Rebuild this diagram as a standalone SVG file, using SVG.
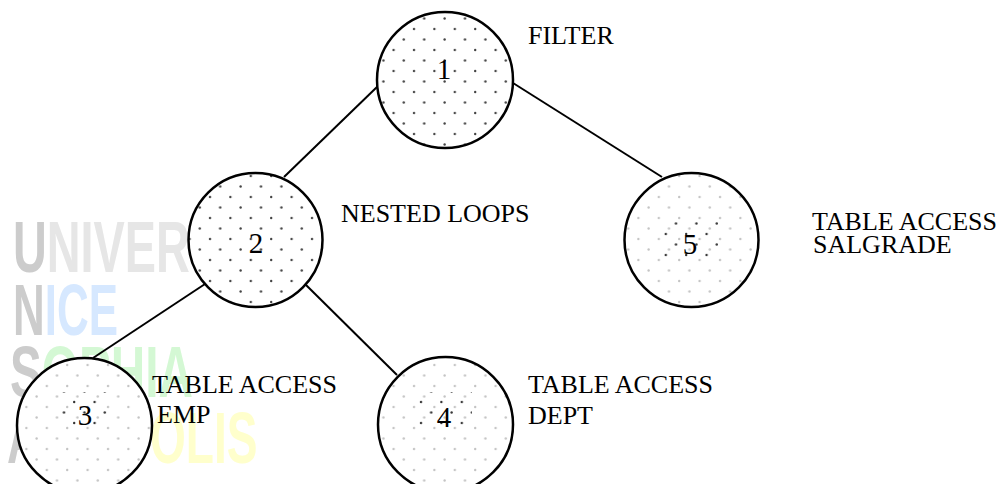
<svg xmlns="http://www.w3.org/2000/svg" width="1007" height="484" viewBox="0 0 1007 484">
<defs>
<pattern id="dk" patternUnits="userSpaceOnUse" width="20.4" height="21" x="1" y="3">
<circle cx="5" cy="5" r="1.2" fill="#444"/>
<circle cx="15.2" cy="15.5" r="1.2" fill="#444"/>
</pattern>
<pattern id="lt" patternUnits="userSpaceOnUse" width="20.4" height="21" x="1" y="3">
<circle cx="5" cy="5" r="1.2" fill="#c4c4c4"/>
<circle cx="15.2" cy="15.5" r="1.2" fill="#c4c4c4"/>
</pattern>
<pattern id="dk2" patternUnits="userSpaceOnUse" width="20.4" height="21" x="8" y="-2">
<circle cx="5" cy="5" r="1.2" fill="#333"/>
<circle cx="15.2" cy="15.5" r="1.2" fill="#333"/>
</pattern>
</defs>
<style>
.wm{font-family:"Liberation Sans","DejaVu Sans",sans-serif;font-weight:bold;font-size:72px}
.ring{stroke:#000;stroke-width:2.5}
.num{font-family:"Liberation Serif","Times New Roman",serif;font-size:29px;text-anchor:middle;fill:#000}
.lbl{font-family:"Liberation Serif","Times New Roman",serif;font-size:26px;fill:#000}
.edge{stroke:#000;stroke-width:2;fill:none}
</style>
<rect width="1007" height="484" fill="#fff"/>
<g id="watermark">
<text class="wm" transform="translate(13,272) scale(0.65,1)"><tspan fill="#cccccc">U</tspan><tspan fill="#e6e6e6">NIVER</tspan></text>
<text class="wm" transform="translate(13,335) scale(0.61,1)"><tspan fill="#cccccc">N</tspan><tspan fill="#d6e8ff">ICE</tspan></text>
<text class="wm" transform="translate(10,397) scale(0.663,1)"><tspan fill="#cccccc">S</tspan><tspan fill="#d4f8d4">OPHIA</tspan></text>
<text class="wm" fill="#cccccc" transform="translate(7,463) scale(0.64,1)">A</text>
<text class="wm" fill="#ffffcc" transform="translate(150,463) scale(0.64,1)">OLIS</text>
</g>
<g id="connectors">
<line class="edge" x1="378" y1="86" x2="284" y2="177"/>
<line class="edge" x1="513" y1="83" x2="662" y2="177"/>
<line class="edge" x1="205" y1="284" x2="93" y2="358"/>
<line class="edge" x1="304" y1="283" x2="397" y2="375"/>
</g>
<g id="node1">
<circle cx="445" cy="80" r="68" fill="#fff"/>
<circle class="ring" cx="445" cy="80" r="68" fill="url(#dk)"/>
<text class="num" x="444" y="79">1</text>
<text class="lbl" x="528" y="44">FILTER</text>
</g>
<g id="node2">
<circle cx="255.5" cy="240" r="67" fill="#fff"/>
<circle class="ring" cx="255.5" cy="240" r="67" fill="url(#dk)"/>
<text class="num" x="256" y="253">2</text>
<text class="lbl" x="341" y="222">NESTED LOOPS</text>
</g>
<g id="node5">
<circle cx="691.5" cy="240" r="67" fill="#fff"/>
<circle class="ring" cx="691.5" cy="240" r="67" fill="url(#lt)"/>
<rect x="662" y="221" width="56" height="37" fill="url(#dk2)"/>
<text class="num" x="690" y="254">5</text>
<text class="lbl" x="812" y="230">TABLE ACCESS</text>
<text class="lbl" x="813" y="253">SALGRADE</text>
</g>
<g id="node3">
<circle cx="84.5" cy="425.5" r="67.5" fill="#fff"/>
<circle class="ring" cx="84.5" cy="425.5" r="67.5" fill="url(#lt)"/>
<rect x="57" y="392" width="56" height="37" fill="url(#dk2)"/>
<text class="num" x="85" y="425">3</text>
<text class="lbl" x="152" y="393">TABLE ACCESS</text>
<text class="lbl" x="157" y="423">EMP</text>
</g>
<g id="node4">
<circle cx="445.5" cy="424.5" r="67.5" fill="#fff"/>
<circle class="ring" cx="445.5" cy="424.5" r="67.5" fill="url(#lt)"/>
<rect x="416" y="392" width="56" height="37" fill="url(#dk2)"/>
<text class="num" x="444" y="427">4</text>
<text class="lbl" x="528" y="393">TABLE ACCESS</text>
<text class="lbl" x="528" y="424">DEPT</text>
</g>
</svg>
